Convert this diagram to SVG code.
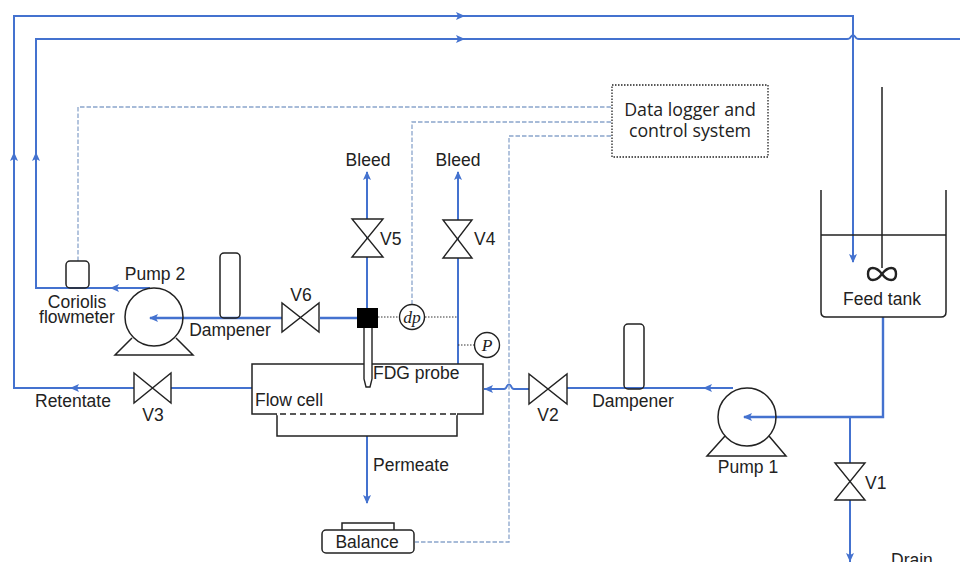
<svg xmlns="http://www.w3.org/2000/svg" width="960" height="562" viewBox="0 0 960 562">
<style>
.p{fill:none;stroke:#4472cf;stroke-width:2.400}
.t{fill:none;stroke:#4472cf;stroke-width:2}
.c{fill:none;stroke:#8ba5cc;stroke-width:1.300;stroke-dasharray:4.500 2}
.d{fill:none;stroke:#333;stroke-width:1;stroke-dasharray:1.500 1.500}
.k{fill:none;stroke:#222;stroke-width:1.500}
.w{fill:#fff;stroke:#222;stroke-width:1.400}
text{font-family:"Liberation Sans",Arial,sans-serif;font-size:17.500px;fill:#222}
.m{text-anchor:middle}
.i{font-family:"Liberation Serif",serif;font-style:italic}
.a{fill:#4472cf}
</style>
<defs>
<path id="ar" class="a" d="M0 0L-9 -4L-7 0L-9 4Z"/>
</defs>
<rect width="960" height="562" fill="#fff"/>
<g id="connectors">
<path class="t" d="M252 388H14V16H853V262"/>
<path class="t" d="M150 288H36V39H847Q850 39 851 36.500Q853 34 855 36.500Q856 39 859 39H960"/>
<path class="p" d="M282 318H150"/>
<path class="p" d="M320 318H357"/>
<path class="t" d="M367 308V172"/>
<path class="t" d="M458 364V172"/>
<path class="t" d="M367 436V503"/>
<path class="t" d="M733 388H567"/>
<path class="t" d="M529 389H514Q512 389 511 386Q509 383 507 386Q506 389 504 389H484"/>
<path class="p" d="M883 317V417H744"/>
<path class="t" d="M850 417V562"/>
<path class="c" d="M611 107H78V261"/>
<path class="c" d="M611 122H412V304"/>
<path class="c" d="M611 136H509V542H415"/>
<path class="d" d="M378 317H399M425 317H458M458 345H474"/>
<use href="#ar" transform="translate(465 16)"/>
<use href="#ar" transform="translate(465 39)"/>
<use href="#ar" transform="translate(14 152) rotate(-90)"/>
<use href="#ar" transform="translate(36 152) rotate(-90)"/>
<use href="#ar" transform="translate(110 288) rotate(180)"/>
<use href="#ar" transform="translate(70 388) rotate(180)"/>
<use href="#ar" transform="translate(149 318) rotate(180)"/>
<use href="#ar" transform="translate(367 171) rotate(-90)"/>
<use href="#ar" transform="translate(458 171) rotate(-90)"/>
<use href="#ar" transform="translate(367 504) rotate(90)"/>
<use href="#ar" transform="translate(484 389) rotate(180)"/>
<use href="#ar" transform="translate(703 388) rotate(180)"/>
<use href="#ar" transform="translate(743 417) rotate(180)"/>
<use href="#ar" transform="translate(853 263) rotate(90)"/>
<use href="#ar" transform="translate(850 562) rotate(90)"/>
</g>
<g id="feed-tank">
<path class="k" d="M821 190V312Q821 317 826 317H941Q946 317 946 312V190M821 235H946M882 87V268"/>
<path fill="none" stroke="#222" stroke-width="2.400" d="M882 274C876 266 868 266 868 274C868 282 876 282 882 274C888 266 896 266 896 274C896 282 888 282 882 274Z"/>
<text class="m" x="882" y="305">Feed tank</text>
</g>
<g id="pump-1">
<path class="k" d="M725 436L707 456H786L769 436"/>
<circle class="k" cx="747" cy="417" r="29"/>
<text class="m" x="748" y="473">Pump 1</text>
</g>
<g id="pump-2">
<path class="k" d="M132 338L115 355H193L176 338"/>
<circle class="k" cx="154" cy="317" r="29"/>
<text class="m" x="155" y="280">Pump 2</text>
</g>
<g id="coriolis">
<rect class="k" x="66" y="261" width="23" height="27" rx="4"/>
<text class="m" x="77" y="308">Coriolis</text>
<text class="m" x="77" y="323">flowmeter</text>
</g>
<g id="dampener-2">
<rect class="k" x="220" y="253" width="20" height="65" rx="4"/>
<text class="m" x="230" y="336">Dampener</text>
</g>
<g id="dampener-1">
<rect class="k" x="624" y="324" width="20" height="65" rx="4"/>
<text class="m" x="633" y="407">Dampener</text>
</g>
<g id="v1"><path class="w" d="M835 463H865L835 500H865Z"/><text x="865" y="489">V1</text></g>
<g id="v2"><path class="w" d="M529 374V404L567 374V404Z"/><text class="m" x="548" y="421">V2</text></g>
<g id="v3"><path class="w" d="M134 373V403L171 373V403Z"/><text class="m" x="153" y="421">V3</text></g>
<g id="v4"><path class="w" d="M443 220H472L443 258H472Z"/><text x="474" y="245">V4</text></g>
<g id="v5"><path class="w" d="M352 219H383L352 257H383Z"/><text x="380" y="245">V5</text></g>
<g id="v6"><path class="w" d="M282 303V332L319 303V332Z"/><text class="m" x="301" y="301">V6</text></g>
<g id="flow-cell">
<rect x="252" y="364" width="231" height="50" fill="#fff" stroke="#222" stroke-width="1.500"/>
<path class="k" d="M277 414V436H457V414"/>
<path d="M277 414H457" stroke="#fff" stroke-width="2.500"/>
<path d="M280 414H456" stroke="#222" stroke-width="1.500" stroke-dasharray="6 4"/>
<text x="255" y="406">Flow cell</text>
</g>
<g id="fdg-probe">
<path class="w" d="M364 328V379L366 387H370L372 379V328"/>
<rect x="357" y="308" width="21" height="20" fill="#000"/>
<text x="373" y="379">FDG probe</text>
</g>
<g id="dp"><circle class="w" cx="412" cy="317" r="12.500"/><text class="m i" x="412" y="323">dp</text></g>
<g id="p"><circle class="w" cx="487" cy="345" r="12.500"/><text class="m i" x="487" y="351">P</text></g>
<g id="balance">
<path class="k" d="M342 530V523H394V530"/>
<rect class="k" x="322" y="530" width="92" height="23" rx="4"/>
<text class="m" x="367" y="548">Balance</text>
</g>
<g id="data-logger">
<rect x="612" y="85" width="156" height="72" fill="#fff" stroke="#222" stroke-width="1.300" stroke-dasharray="1.500 1.500"/>
<text class="m" x="690" y="116" style="font-family:'Open Sans',sans-serif;font-size:17.800px">Data logger and</text>
<text class="m" x="690" y="137" style="font-family:'Open Sans',sans-serif;font-size:17.800px">control system</text>
</g>
<g id="labels">
<text class="m" x="368" y="166">Bleed</text>
<text class="m" x="458" y="166">Bleed</text>
<text x="35" y="407">Retentate</text>
<text x="373" y="471">Permeate</text>
<text x="891" y="566">Drain</text>
</g>
</svg>
